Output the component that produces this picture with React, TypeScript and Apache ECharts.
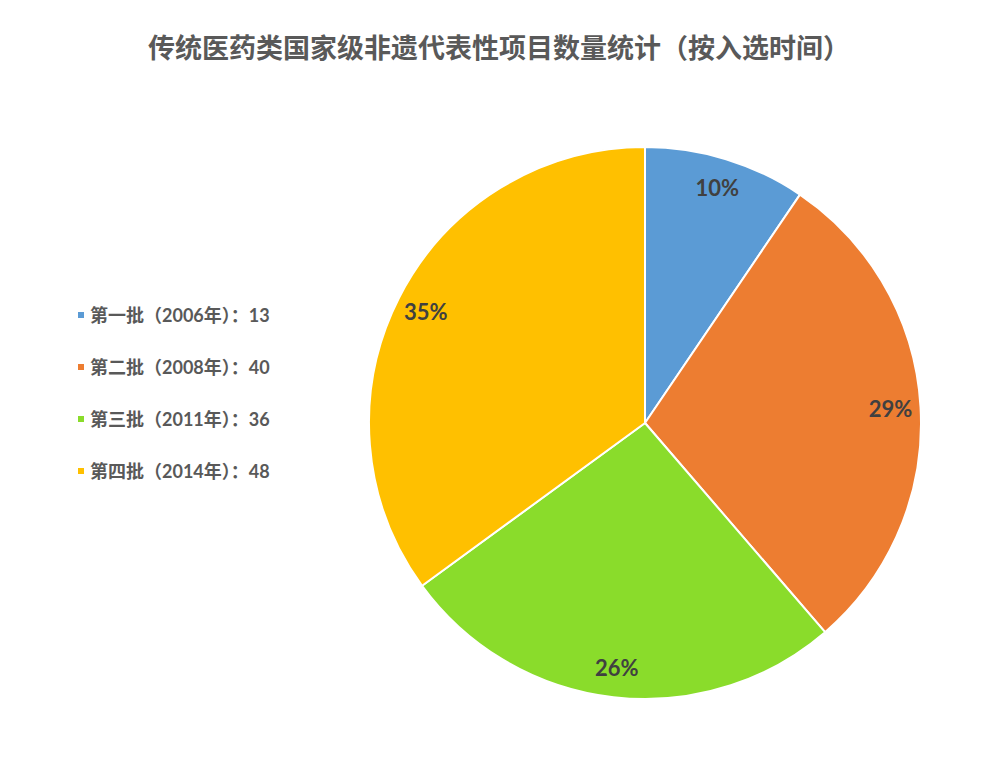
import React, { useEffect, useRef } from "react";
import * as echarts from "echarts";

const titleText = "传统医药类国家级非遗代表性项目数量统计（按入选时间）";
const categories = ["第一批（2006年）", "第二批（2008年）", "第三批（2011年）", "第四批（2014年）"];
const values = [13, 40, 36, 48];
const colors = ["#5B9BD5", "#ED7D31", "#8ADC2B", "#FFC000"];

const FONT = "Lato, 'Noto Sans CJK SC', sans-serif";

export default function App() {
  const ref = useRef<HTMLDivElement>(null);
  useEffect(() => {
    if (!ref.current) return;
    const chart = echarts.init(ref.current, undefined, { renderer: "svg" });
    const data = categories.map((name, i) => ({
      name,
      value: values[i],
      itemStyle: { color: colors[i] },
    }));
    const labelData = categories.map((name, i) => ({
      name,
      value: values[i],
    }));
    chart.setOption({
      animation: false,
      backgroundColor: "#ffffff",
      title: {
        text: titleText,
        left: "center",
        top: 29,
        textStyle: {
          fontFamily: FONT,
          fontSize: 27,
          fontWeight: "bold",
          color: "#595959",
        },
      },
      legend: {
        orient: "vertical",
        left: 76,
        top: 305,
        padding: 0,
        itemWidth: 8,
        itemHeight: 8,
        itemGap: 32,
        icon: "rect",
        data: categories,
        formatter: (name: string) => {
          const i = categories.indexOf(name);
          return name + "：" + values[i];
        },
        textStyle: {
          fontFamily: FONT,
          fontSize: 18,
          fontWeight: "bold",
          color: "#595959",
          lineHeight: 20,
        },
      },
      series: [
        {
          type: "pie",
          center: [645, 423],
          radius: [0, 276],
          startAngle: 90,
          clockwise: true,
          data,
          label: { show: false },
          labelLine: { show: false },
          itemStyle: { borderColor: "#ffffff", borderWidth: 2 },
          emphasis: { disabled: true },
        },
        {
          type: "pie",
          center: [645, 423],
          radius: [210, 276],
          startAngle: 90,
          clockwise: true,
          percentPrecision: 0,
          data: labelData,
          silent: true,
          itemStyle: { color: "rgba(0,0,0,0)", borderWidth: 0 },
          label: {
            show: true,
            position: "inside",
            formatter: "{d}%",
            fontFamily: FONT,
            fontSize: 22,
            fontWeight: "bold",
            color: "#404040",
          },
          labelLine: { show: false },
          emphasis: { disabled: true },
        },
      ],
    });
    return () => chart.dispose();
  }, []);
  return (
    <div
      ref={ref}
      style={{ position: "absolute", left: 0, top: 0, width: 998, height: 763 }}
    />
  );
}
